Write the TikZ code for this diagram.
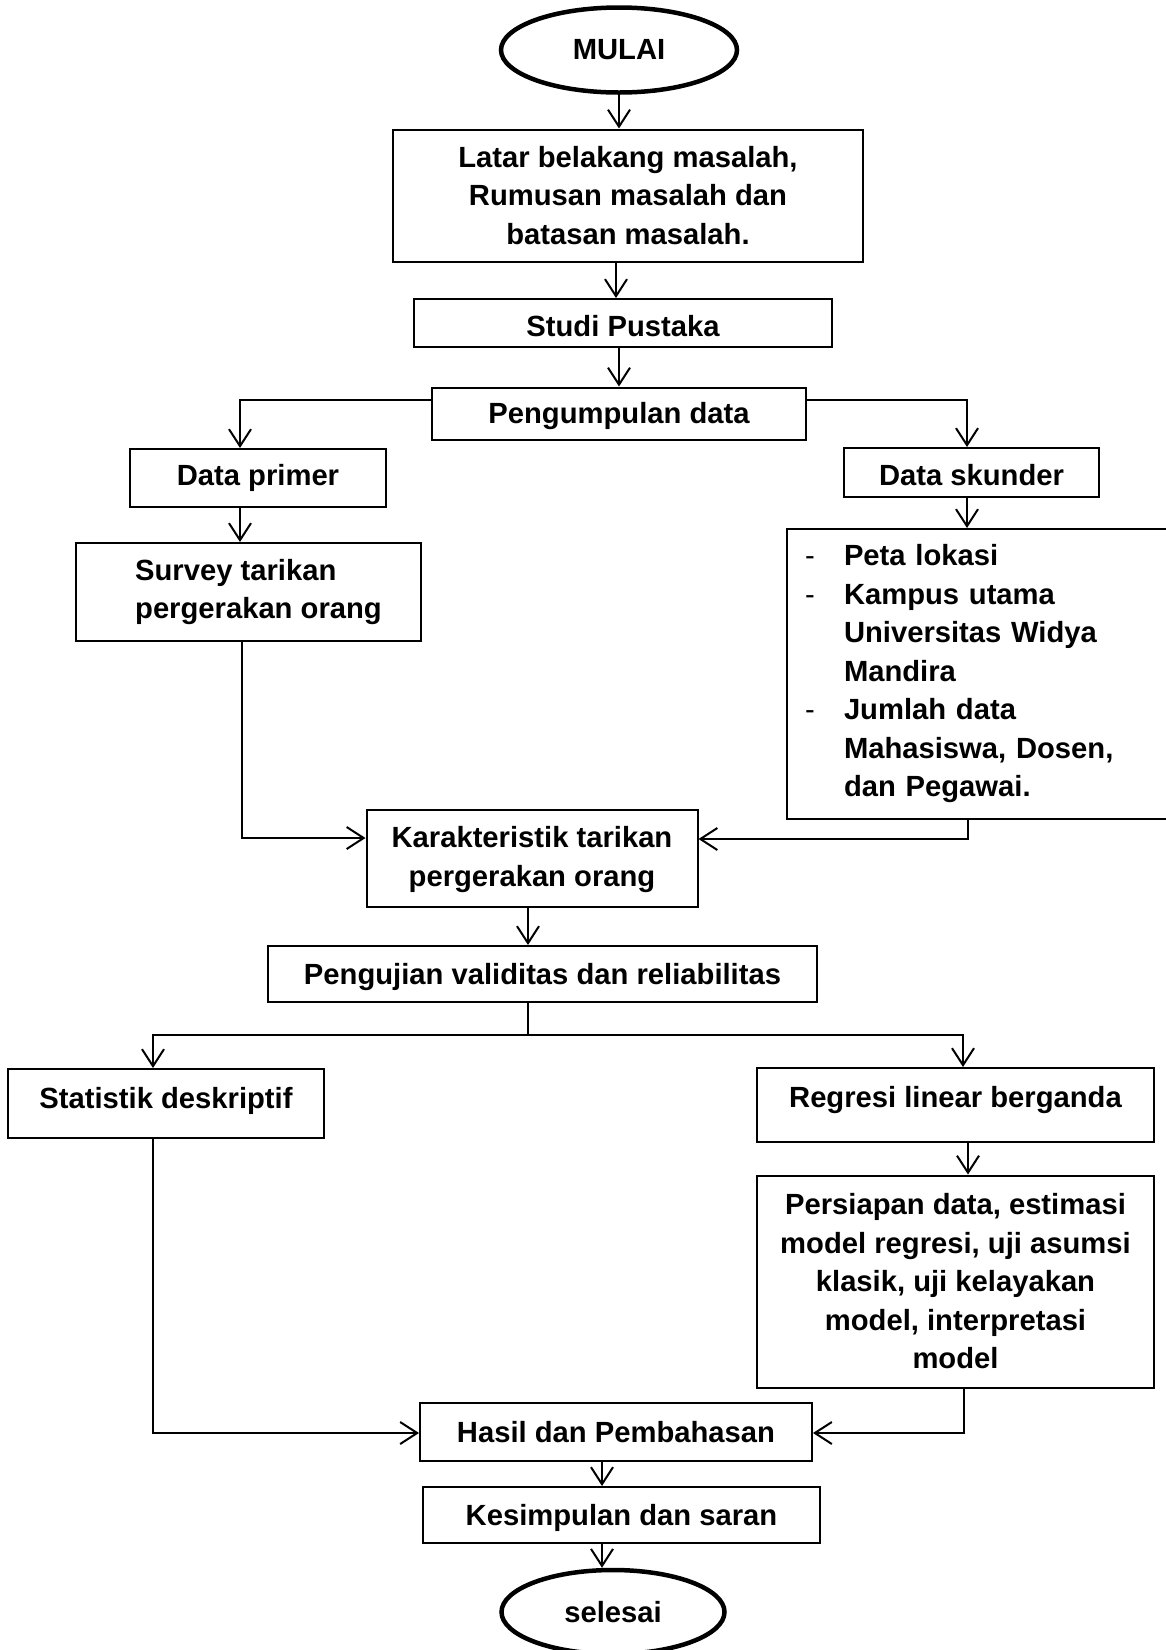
\documentclass[tikz,border=0pt]{standalone}
\usepackage{fontspec}
\setmainfont{Liberation Sans}
\usetikzlibrary{shapes.geometric,arrows.meta}

\newcommand{\geser}[2]{\raisebox{#1}[\height][\depth]{#2}}

\tikzset{
    box/.style={draw, rectangle, line width=2pt, inner sep=0pt, align=center,
        font=\fontsize{29.2pt}{38.5pt}\selectfont\bfseries},
    ujung/.style={draw, ellipse, line width=4.5pt, inner sep=0pt,
        font=\fontsize{29.2pt}{38.5pt}\selectfont\bfseries},
    arr/.style={line width=2pt, -{Straight Barb[length=17pt,width=22pt]}},
    garis/.style={line width=2pt}
}

\begin{document}
\begin{tikzpicture}[x=1pt,y=-1pt]
    \useasboundingbox (0,0) rectangle (1166,1650);

    % === AWAL ===
    \node[ujung, minimum width=236pt, minimum height=85pt] (mulai) at (619,50) {MULAI};
    \node[box, minimum width=470pt, minimum height=132pt] (latar) at (628,195.5)
        {Latar belakang masalah,\\ Rumusan masalah dan\\ batasan masalah.};
    \node[box, minimum width=418pt, minimum height=48pt] (studi) at (623,323) {\geser{-3pt}{Studi Pustaka}};
    \node[box, minimum width=374pt, minimum height=52pt] (kumpul) at (619,413.5) {\geser{-3pt}{Pengumpulan data}};

    % === DATA ===
    \node[box, minimum width=256pt, minimum height=58pt] (primer) at (258,478) {Data primer};
    \node[box, minimum width=255pt, minimum height=49pt] (skunder) at (971.5,472.5) {\geser{-3pt}{Data skunder}};
    \node[box, minimum width=345pt, minimum height=98pt, align=left] (survey) at (248.5,592)
        {\hspace*{20pt}Survey tarikan\\ \hspace*{20pt}pergerakan orang};
    \node[box, anchor=north west, minimum height=290pt, text width=370pt, align=left,
        inner xsep=18pt] (sekunder) at (786,528)
        {\makebox[39pt][l]{\mdseries -}Peta lokasi\\
         \makebox[39pt][l]{\mdseries -}Kampus utama\\
         \hspace*{39pt}Universitas Widya\\
         \hspace*{39pt}Mandira\\
         \makebox[39pt][l]{\mdseries -}Jumlah data\\
         \hspace*{39pt}Mahasiswa, Dosen,\\
         \hspace*{39pt}dan Pegawai.};

    % === ANALISIS ===
    \node[box, minimum width=331pt, minimum height=97pt, text depth=3pt] (karakter) at (532,858)
        {Karakteristik tarikan\\ pergerakan orang};
    \node[box, minimum width=549pt, minimum height=56pt] (uji) at (542.5,974)
        {\geser{-3pt}{Pengujian validitas dan reliabilitas}};
    \node[box, minimum width=316pt, minimum height=69pt] (statistik) at (166,1103.5)
        {\geser{3pt}{Statistik deskriptif}};
    \node[box, minimum width=397pt, minimum height=74pt] (regresi) at (955.5,1105)
        {\geser{5pt}{Regresi linear berganda}};
    \node[box, minimum width=397pt, minimum height=212pt] (persiapan) at (955.5,1281.5)
        {Persiapan data, estimasi\\ model regresi, uji asumsi\\ klasik, uji kelayakan\\
         model, interpretasi\\ model};

    % === AKHIR ===
    \node[box, minimum width=392pt, minimum height=58pt] (hasil) at (616,1432) {Hasil dan Pembahasan};
    \node[box, minimum width=397pt, minimum height=56pt] (simpul) at (621.5,1515) {\geser{-3pt}{Kesimpulan dan saran}};
    \node[ujung, minimum width=223pt, minimum height=84pt] (selesai) at (613,1612) {selesai};

    % titik belok
    \coordinate (kiri) at (240,400);
    \coordinate (kanan) at (967,400);
    \coordinate (bawahkiri) at (242,838);
    \coordinate (bawahkanan) at (968,839);
    \coordinate (cabang) at (528,1035);
    \coordinate (cabangkiri) at (153,1035);
    \coordinate (cabangkanan) at (963,1035);
    \coordinate (akhirkiri) at (153,1433);
    \coordinate (akhirkanan) at (964,1433);
    \coordinate (poros) at (602,1475);
    \coordinate (atas) at (616,110);

    % Panah
    \draw[arr] (mulai.south) -- (mulai.south |- latar.north);
    \draw[arr] (atas |- latar.south) -- (atas |- studi.north);
    \draw[arr] (studi.south -| kumpul.north) -- (kumpul.north);
    \draw[arr] (kumpul.west |- kiri) -- (kiri) -- (kiri |- primer.north);
    \draw[arr] (kumpul.east |- kanan) -- (kanan) -- (kanan |- skunder.north);
    \draw[arr] (kiri |- primer.south) -- (kiri |- survey.north);
    \draw[arr] (kanan |- skunder.south) -- (kanan |- sekunder.north);
    \draw[arr] (bawahkiri |- survey.south) -- (bawahkiri) -- (karakter.west |- bawahkiri);
    \draw[arr] (bawahkanan |- sekunder.south) -- (bawahkanan) -- (karakter.east |- bawahkanan);
    \draw[arr] (cabang |- karakter.south) -- (cabang |- uji.north);
    \draw[garis] (cabang |- uji.south) -- (cabang);
    \draw[arr] (cabang) -- (cabangkiri) -- (cabangkiri |- statistik.north);
    \draw[arr] (cabang) -- (cabangkanan) -- (cabangkanan |- regresi.north);
    \draw[arr] (bawahkanan |- regresi.south) -- (bawahkanan |- persiapan.north);
    \draw[arr] (akhirkiri |- statistik.south) -- (akhirkiri) -- (hasil.west |- akhirkiri);
    \draw[arr] (akhirkanan |- persiapan.south) -- (akhirkanan) -- (hasil.east |- akhirkanan);
    \draw[arr] (poros |- hasil.south) -- (poros |- simpul.north);
    \draw[arr] (poros |- simpul.south) -- (poros |- selesai.north);
\end{tikzpicture}
\end{document}
